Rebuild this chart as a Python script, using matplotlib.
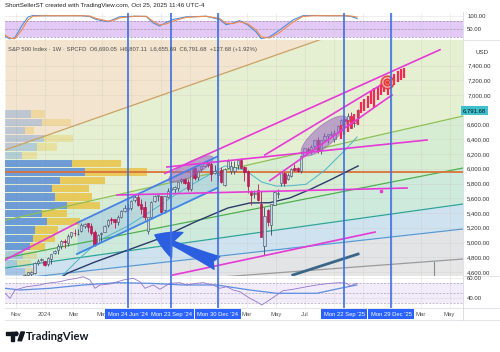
import matplotlib
matplotlib.use('Agg')
import matplotlib.pyplot as plt
import matplotlib.transforms as mtransforms
from matplotlib.patches import Ellipse, Rectangle, Polygon, Circle
import numpy as np
import pandas as pd

plt.rcParams['font.family'] = ['Liberation Sans', 'DejaVu Sans']

# ---------------- data ----------------
ANCHOR = pd.Timestamp('2024-06-24')   # x axis = weeks from this Monday


def wk(d):
    return (pd.Timestamp(d) - ANCHOR).days / 7.0


first_week = '2023-10-30'
opens = [4120, 4364, 4406, 4511, 4554, 4569, 4593, 4725, 4758, 4745, 4703, 4781, 4853, 4892,
         4950, 5026, 4989, 5093, 5131, 5111, 5154, 5219, 5258, 5218, 5149, 4987, 5114, 5143,
         5233, 5316, 5315, 5283, 5341, 5432, 5459, 5471, 5572, 5616, 5524, 5477, 5151, 5345,
         5558, 5637, 5624, 5442, 5615, 5711, 5727, 5737, 5832, 5863, 5816, 5723, 6008, 5882,
         5992, 6040, 6083, 6063, 5941, 5920, 5982, 5779, 6015, 5969, 5970, 6046, 6121, 6027,
         5968, 5705, 5653, 5718, 5527, 4953, 5441, 5232, 5507, 5655, 5807, 5938, 5855, 5897,
         6004, 6004, 5970, 6193, 6268, 6256, 6304, 6394, 6260, 6390, 6445, 6455, 6401, 6494,
         6590, 6669, 6642, 6720, 6620, 6690.05]
highs = [4366, 4415, 4521, 4569, 4595, 4609, 4738, 4778, 4793, 4755, 4802, 4842, 4903, 4975,
         5030, 5048, 5111, 5140, 5190, 5180, 5262, 5265, 5264, 5263, 5168, 5114, 5139, 5239,
         5325, 5342, 5315, 5375, 5447, 5505, 5524, 5570, 5656, 5670, 5585, 5566, 5350, 5564,
         5643, 5651, 5626, 5636, 5733, 5767, 5765, 5822, 5878, 5878, 5863, 6012, 6018, 5977,
         6044, 6099, 6085, 6085, 6050, 5955, 6022, 6014, 6128, 6100, 6101, 6128, 6147, 6044,
         5986, 5706, 5715, 5787, 5695, 5481, 5459, 5528, 5700, 5720, 5959, 5954, 5945, 6017,
         6059, 6024, 6187, 6285, 6291, 6316, 6395, 6427, 6396, 6481, 6475, 6508, 6532, 6592,
         6672, 6699, 6750, 6764, 6700, 6807.11]
lows = [4104, 4329, 4396, 4507, 4537, 4546, 4568, 4695, 4751, 4682, 4683, 4714, 4842, 4845,
        4918, 4920, 4946, 5056, 5094, 5104, 5145, 5203, 5146, 5107, 4953, 4987, 5011, 5143,
        5211, 5257, 5191, 5234, 5330, 5420, 5433, 5446, 5547, 5497, 5390, 5302, 5119, 5327,
        5547, 5560, 5402, 5406, 5609, 5698, 5674, 5695, 5808, 5794, 5696, 5697, 5853, 5850,
        5964, 6024, 6024, 5832, 5935, 5829, 5809, 5773, 6009, 5933, 5923, 6003, 6009, 5837,
        5667, 5505, 5597, 5569, 5069, 4835, 5220, 5101, 5506, 5607, 5773, 5768, 5850, 5891,
        5964, 5953, 5943, 6173, 6229, 6202, 6282, 6212, 6201, 6360, 6343, 6440, 6360, 6483,
        6576, 6566, 6635, 6550, 6570, 6655.69]
closes = [4358, 4415, 4514, 4559, 4594, 4604, 4719, 4754, 4770, 4697, 4784, 4840, 4891, 4959,
          5027, 5006, 5089, 5137, 5124, 5117, 5234, 5254, 5204, 5123, 4967, 5100, 5128, 5223,
          5303, 5305, 5278, 5347, 5432, 5465, 5460, 5567, 5615, 5505, 5459, 5346, 5344, 5554,
          5634, 5648, 5408, 5626, 5703, 5738, 5751, 5815, 5865, 5808, 5729, 5995, 5870, 5969,
          6032, 6090, 6051, 5930, 5971, 5942, 5827, 5997, 6101, 6041, 6026, 6115, 6013, 5955,
          5770, 5639, 5668, 5581, 5074, 5363, 5283, 5525, 5687, 5660, 5958, 5803, 5912, 6000,
          5977, 5968, 6173, 6279, 6260, 6297, 6389, 6238, 6389, 6449, 6467, 6460, 6482, 6584,
          6664, 6644, 6716, 6553, 6664, 6791.68]
last_close = 6791.68

# projected (ghost) bars
proj_weeks = list(range(64, 84))
proj_high = [6590, 6620, 6660, 6710, 6740, 6800, 6900, 6940, 6980, 7050,
             7090, 7110, 7150, 7200, 7190, 7250, 7290, 7320, 7350, 7370]
proj_low = [6410, 6460, 6500, 6560, 6610, 6600, 6760, 6790, 6820, 6880,
            6820, 6930, 7000, 7040, 7000, 7090, 7140, 7180, 7210, 7230]
target_week, target_price = 77.8, 7176

# moving averages
ma_slow_w = [-20.4, -18, -9.9, 0, 9.9, 20.1, 30, 36.6, 42.6, 48.6, 55, 60.7, 69.1]
ma_slow_p = [4519, 4587, 4736, 4898, 5061, 5278, 5468, 5536, 5540, 5604, 5726, 5848, 6038]
ma_fast_w = [-19.8, -14.4, -8.4, 0, 6.6, 14.1, 21.6, 29.1, 35.1, 40.2, 44.5, 49, 53.5, 59.2, 65.2, 68.8]
ma_fast_p = [4546, 4790, 5034, 5224, 5414, 5644, 5848, 6038, 5983, 5820, 5765, 5770, 5790, 5983, 6254, 6431]

# volume profile rows (top to bottom)
vp_top, vp_step = 6800, 112.5
vp_up = [26, 37, 20, 39, 32, 17, 67, 80, 55, 47, 50, 62, 37, 42, 30, 28, 25, 18, 12, 20]
vp_total = [40, 66, 29, 68, 52, 32, 116, 142, 100, 84, 87, 95, 62, 75, 53, 50, 40, 32, 26, 30]
vp_value_area = [False] * 6 + [True] * 11 + [False] * 3
poc_price = 5952

# Gann-fan style lines: prices at the left and right pane edges
fan_w = [-36.9, 100.6]
fan_lines = [('#c9a262', [6254, 8429]), ('#8cc152', [5300, 6715]), ('#4caf50', [4790, 6010]),
             ('#2fa49a', [4654, 5522]), ('#5b9bd5', [4492, 5183]), ('#9a9a9a', [4315, 4776])]
fan_fills = ['#f2e4cf', '#e5efd2', '#d6edd4', '#cdeadc', '#cfe2ef', '#e3e4e6', '#e6e6e6']

# 2024 rising channel
chan_w = [-15.3, 26.8]
chan_hi = [5265, 6166]
chan_lo = [4844, 5739]

# magenta trend lines (week0, price0, week1, price1)
magenta_lines = [(-36.9, 4763, -15.3, 5265), (11.1, 5937, 93.7, 7614), (11.7, 6024, 89.8, 6390),
                 (-3.3, 5644, 83.8, 5739), (13.5, 4559, 74.2, 5142), (41.1, 6187, 78.9, 7217),
                 (42.6, 5840, 79.3, 7000)]
magenta_dot = (76, 5702)
steel_line = (49.5, 4559, 69.1, 4844)
gray_tick = (91.9, 4536, 91.9, 4736)

# highlighted ellipses: week, price, width px, height px, angle
ellipses = [(18.9, 5997, 50, 14, 28), (58.9, 6444, 58, 20, 40)]
arrow_tail = (26.7, 4722)
arrow_tip = (8.1, 5102)

# vertical date markers
marker_dates = ['2024-06-24', '2024-09-23', '2024-12-30', '2025-09-22', '2025-12-29']
marker_labels = ["Mon 24 Jun '24", "Mon 23 Sep '24", "Mon 30 Dec '24", "Mon 22 Sep '25", "Mon 29 Dec '25"]

month_ticks = ['2023-11-01', '2024-01-01', '2024-03-01', '2024-05-01', '2024-07-01', '2024-09-01',
               '2024-11-01', '2025-01-01', '2025-03-01', '2025-05-01', '2025-07-01', '2025-09-01',
               '2025-11-01', '2026-01-01', '2026-03-01', '2026-05-01']
# labels hidden behind the highlighted date boxes are left empty
month_labels = ['Nov', '2024', 'Mar', 'May', '', '', '', '', 'Mar', 'May', 'Jul', '',
                '', '', 'Mar', 'May']

# stochastic (top pane)
stoch_w = [-37, -35.5, -34, -32, -30, -28.5, -25, -18, -14, -11.5, -9.5, -6, -4, -2.5, 2, 5.5, 7.5,
           9.5, 11.5, 13.5, 17.5, 23.5, 27.5, 29.5, 31.5, 33.5, 36, 38.5, 40, 42.5, 45.5, 49.5,
           52.5, 55.5, 60, 65, 67, 68.8]
stoch_k = [24, 15, 18, 60, 95, 101, 100, 100, 100, 97, 86, 78, 88, 96, 98, 97, 74, 62, 75, 86, 96,
           98, 86, 67, 73, 82, 66, 40, 16, 22, 47, 84, 100, 101, 100, 100, 97, 90]
stoch_d = [30, 18, 15, 45, 85, 98, 100, 100, 100, 99, 90, 80, 84, 92, 98, 98, 80, 66, 70, 80, 94,
           98, 90, 72, 71, 78, 70, 48, 22, 18, 38, 76, 97, 100, 100, 100, 99, 95]

# RSI (bottom pane)
rsi_w = [-36.9, -35.4, -33.9, -30.4, -26.4, -24.4, -20.4, -18.4, -15.4, -13.4, -11.4, -9.9, -8.4,
         -5.4, -1.4, 1.6, 3.6, 5.1, 7.6, 9.6, 12.6, 15.6, 17.6, 20.6, 22.6, 25.6, 27.6, 29.6, 31.6,
         33.6, 36.6, 38.6, 40.2, 41.7, 44.7, 46.6, 49.6, 53.7, 56.7, 60.7, 63.7, 65.7, 66.7, 68.7]
rsi_v = [44.4, 39.4, 47.7, 51, 52.7, 54.4, 56, 57.7, 59.4, 61, 57.7, 49.4, 52.7, 53.7, 57.7, 59.4,
         56, 49.4, 52.7, 48.4, 54.4, 55, 52.7, 54.4, 55, 52.7, 49.4, 51, 47.7, 46, 39.4, 36, 32.7,
         36, 42.7, 47, 48.4, 51, 52.7, 54.4, 55, 54.4, 51.7, 54.4]
rsi_ma_w = [-36.9, -32.4, -23.4, -13.4, -3.4, 6.6, 16.6, 26.6, 36.6, 44.7, 56.7, 63.7, 68.7]
rsi_ma_v = [49.4, 47.7, 49.4, 52.7, 55, 54.4, 52.7, 52.7, 47.7, 44.4, 44.4, 49.4, 52.7]

# ---------------- layout ----------------
W, H = 500, 352
fig = plt.figure(figsize=(W / 100, H / 100), dpi=100)
fig.patch.set_facecolor('white')


def box(x0, y0, x1, y1):
    return [x0 / W, 1 - y1 / H, (x1 - x0) / W, (y1 - y0) / H]


ax_top = fig.add_axes(box(5, 13, 463, 40))
ax = fig.add_axes(box(5, 40, 463, 276))
ax_rsi = fig.add_axes(box(5, 276, 463, 308))
XLIM = (-36.9, 100.6)
tick_w = [wk(d) for d in month_ticks]
LBL = dict(labelsize=4.3, labelcolor='#333333', length=0, pad=3)

for a in (ax_top, ax, ax_rsi):
    a.set_xlim(*XLIM)
    for s in a.spines.values():
        s.set_visible(False)
    a.yaxis.tick_right()
    a.set_xticks(tick_w)
    a.grid(True, color='#c9c3bb', lw=0.4, alpha=0.45)
    a.set_axisbelow(True)
    a.tick_params(axis='both', **LBL)
    for d in marker_dates:
        a.axvline(wk(d), color='#3d6fe0', lw=1.2, zorder=8)

# ---------------- main pane ----------------
ax.set_ylim(4546, 7746)
ax.set_xticklabels([])
yt = [p for p in range(4600, 7401, 200) if p != 6800]
ax.set_yticks(yt)
ax.set_yticklabels([f'{p:,.2f}' for p in yt])

xs = np.array(fan_w)
tops = [np.array([9000, 9000])] + [np.array(v) for _, v in fan_lines] + [np.array([3000, 3000])]
for i, c in enumerate(fan_fills):
    ax.fill_between(xs, tops[i + 1], tops[i], color=c, lw=0, zorder=0)
for c, v in fan_lines:
    ax.plot(xs, v, color=c, lw=0.9, zorder=2)

# volume profile (x in axes fraction)
vp_tr = mtransforms.blended_transform_factory(ax.transAxes, ax.transData)
for i in range(len(vp_up)):
    yc = vp_top - vp_step * (i + 0.5)
    a_ = 0.85 if vp_value_area[i] else 0.35
    ax.barh(yc, vp_up[i] / 458, height=vp_step * 0.88, left=0, color='#5a8ed6',
            alpha=a_, transform=vp_tr, zorder=1, lw=0)
    ax.barh(yc, (vp_total[i] - vp_up[i]) / 458, height=vp_step * 0.88, left=vp_up[i] / 458,
            color='#e8c446', alpha=a_, transform=vp_tr, zorder=1, lw=0)
ax.axhline(poc_price, color='#d9733a', lw=1.3, zorder=2.2)

# channel
ax.fill_between(chan_w, chan_lo, chan_hi, color='#8dbbe6', alpha=0.4, lw=0, zorder=1.5)
ax.plot(chan_w, chan_hi, color='#4a7fe6', lw=1.3, zorder=4)
ax.plot(chan_w, chan_lo, color='#3f86e8', lw=1.3, zorder=4)

# moving averages
ax.plot(ma_slow_w, ma_slow_p, color='#2b3a6b', lw=1.0, zorder=2.6)
ax.plot(ma_fast_w, ma_fast_p, color='#4fb4c8', lw=0.7, zorder=2.6)
ax.plot([steel_line[0], steel_line[2]], [steel_line[1], steel_line[3]], color='#3a6688', lw=2.0, zorder=2.6)
ax.plot([gray_tick[0], gray_tick[2]], [gray_tick[1], gray_tick[3]], color='#8a8a8a', lw=0.8, zorder=2.6)

# candles
cw = np.arange(len(closes)) + wk(first_week)
o, h, l, c = map(np.array, (opens, highs, lows, closes))
up = c >= o
body = np.maximum(np.abs(c - o), 10)
ax.vlines(cw[up], l[up], h[up], color='#3c4a60', lw=0.6, zorder=3)
ax.vlines(cw[~up], l[~up], h[~up], color='#b8174f', lw=0.6, zorder=3)
ax.bar(cw[up], body[up], bottom=np.minimum(o, c)[up], width=0.72, color='#c8d6e8',
       edgecolor='#3c4a60', lw=0.4, zorder=3.1)
ax.bar(cw[~up], body[~up], bottom=np.minimum(o, c)[~up], width=0.72, color='#c8195a',
       edgecolor='#a3124a', lw=0.4, zorder=3.1)

# projected bars
ax.vlines(proj_weeks, proj_low, proj_high, color='#ee2a55', lw=1.6, zorder=3.5)

# ellipses
for ew, ep, wpx, hpx, ang in ellipses:
    tr = fig.dpi_scale_trans + mtransforms.ScaledTranslation(ew, ep, ax.transData)
    ax.add_patch(Ellipse((0, 0), wpx / 100, hpx / 100, angle=ang, transform=tr,
                         facecolor='#9a66bf', edgecolor='#8a55b0', alpha=0.55, lw=0.6, zorder=3.3))

# magenta lines
for w0, p0, w1, p1 in magenta_lines:
    ax.plot([w0, w1], [p0, p1], color='#e53ad6', lw=1.2, zorder=4)
ax.plot(*magenta_dot, 's', color='#e53ad6', ms=2, zorder=4)

# target
ax.plot(target_week, target_price, 'o', ms=9, mfc='#f8b4b4', mec='#e53935', mew=1.2, alpha=0.9, zorder=5)
ax.plot(target_week, target_price, 'o', ms=4.5, mfc='none', mec='#e53935', mew=1.2, zorder=5)
ax.plot(target_week, target_price, 'o', ms=1.6, color='#e53935', zorder=5)

# arrow
ax.annotate('', xy=arrow_tip, xytext=arrow_tail,
            arrowprops=dict(arrowstyle='fancy,head_length=0.8,head_width=0.9,tail_width=0.45',
                            color='#2c5fe0', mutation_scale=22, shrinkA=0, shrinkB=0), zorder=6)

# last price label
ax.text(1.0, last_close, f'{last_close:,.2f}', transform=vp_tr, ha='left', va='center',
        fontsize=4.3, color='#111111', clip_on=False, zorder=10,
        bbox=dict(boxstyle='square,pad=0.35', facecolor='#3fc0cf', edgecolor='none'))

# ---------------- top pane (stochastic) ----------------
ax_top.set_ylim(10.7, 110)
ax_top.set_xticklabels([])
ax_top.set_yticks([50, 100])
ax_top.set_yticklabels(['50.00', '100.00'])
ax_top.axhspan(20, 80, color='#e3c9f5', lw=0, zorder=0.2)
for v in (20, 50, 80):
    ax_top.axhline(v, color='#9a8aa8', lw=0.5, ls=(0, (3, 2)), zorder=0.3)
ax_top.plot(stoch_w, stoch_k, color='#4a90e2', lw=0.8, zorder=2)
ax_top.plot(stoch_w, stoch_d, color='#f08a4b', lw=0.8, zorder=2.1)

# ---------------- RSI pane ----------------
ax_rsi.set_ylim(29.7, 61.7)
ax_rsi.set_yticks([40, 60])
ax_rsi.set_yticklabels(['40.00', '60.00'])
ax_rsi.set_xticklabels(month_labels)
ax_rsi.tick_params(axis='x', pad=3, labelcolor='#555555')
ax_rsi.axhspan(34.5, 55, color='#f1ebfa', lw=0, zorder=0.2)
for v in (34.5, 44.5, 55):
    ax_rsi.axhline(v, color='#a9a3b3', lw=0.5, ls=(0, (3, 2)), zorder=0.3)
ax_rsi.plot(rsi_ma_w, rsi_ma_v, color='#5b8fe0', lw=0.9, zorder=2)
ax_rsi.plot(rsi_w, rsi_v, color='#9575cd', lw=0.6, zorder=2.1)

xa = mtransforms.blended_transform_factory(ax_rsi.transData, ax_rsi.transAxes)
for d, lab in zip(marker_dates, marker_labels):
    ax_rsi.text(wk(d), -0.2, lab, transform=xa, ha='center', va='center', fontsize=4.2,
                color='white', clip_on=False, zorder=12,
                bbox=dict(boxstyle='square,pad=0.42', facecolor='#2962ff', edgecolor='none'))

# ---------------- chrome ----------------
ov = fig.add_axes([0, 0, 1, 1], zorder=-1)
ov.set_xlim(0, W)
ov.set_ylim(H, 0)
ov.axis('off')
ov.plot([463, 463], [12, 320], color='#d6d9e0', lw=0.6)
for y in (40, 276, 308, 320):
    ov.plot([5, 500], [y, y], color='#d6d9e0', lw=0.5)

fig.text(5 / W, 1 - 5 / H, 'ShortSellerST created with TradingView.com, Oct 25, 2025 11:46 UTC-4',
         fontsize=4.5, color='#222222', va='center', ha='left')
fig.text(8 / W, 1 - 49 / H,
         'S&P 500 Index · 1W · SPCFD  O6,690.05  H6,807.11  L6,655.69  C6,791.68  +127.68 (+1.92%)',
         fontsize=4.25, color='#4a4a4a', va='center', ha='left')
fig.text(475 / W, 1 - 53 / H, 'USD', fontsize=4.4, color='#333333', va='center', ha='left')

# TradingView logo
lg = fig.add_axes([0, 0, 1, 1], zorder=5)
lg.set_xlim(0, W)
lg.set_ylim(H, 0)
lg.axis('off')
lg.add_patch(Rectangle((6, 332), 8, 3, color='#131722'))
lg.add_patch(Rectangle((10.5, 332), 3.5, 8.7, color='#131722'))
lg.add_patch(Circle((16.2, 333.8), 1.8, color='#131722'))
lg.add_patch(Polygon([[18, 340.7], [21, 332], [24.5, 332], [21.5, 340.7]], color='#131722'))
lg.text(26, 336.3, 'TradingView', fontsize=8, fontweight='bold', color='#131722',
        family=['Lato', 'DejaVu Sans'], va='center', ha='left')

fig.savefig('out.png', dpi=100)
